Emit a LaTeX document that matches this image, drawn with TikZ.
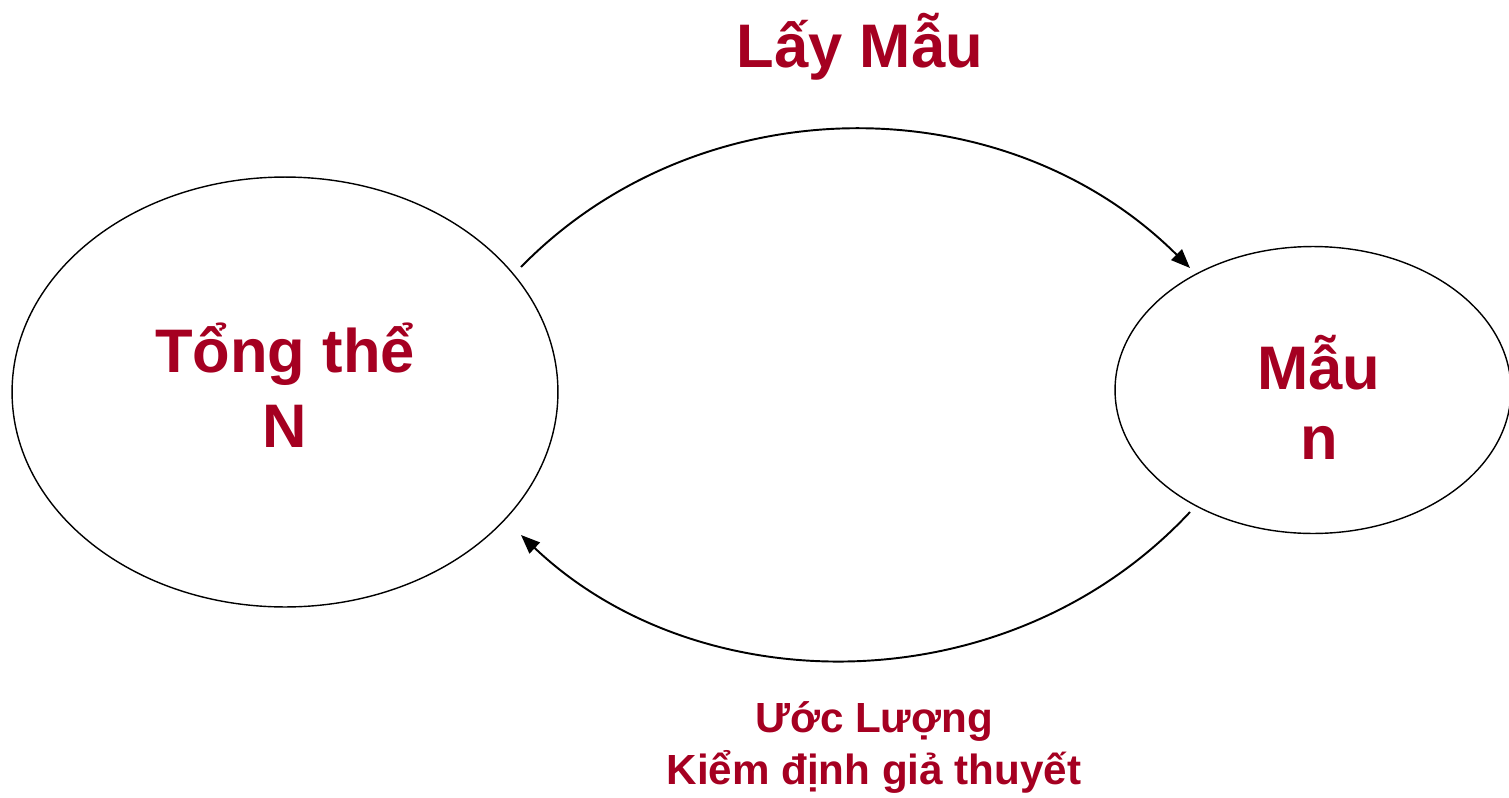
\documentclass[tikz,border=0pt]{standalone}
\usepackage{fontspec}
\setmainfont{Liberation Sans}
\usetikzlibrary{shapes.geometric,arrows.meta}
\definecolor{txtred}{RGB}{165,0,33}
\begin{document}
\begin{tikzpicture}[x=0.02cm,y=-0.02cm,
  circ/.style={draw=black,line width=0.8pt,ellipse,inner sep=0pt},
  lbl/.style={text=txtred,align=center,inner sep=0pt},
  conn/.style={draw=black,line width=1.1pt,-{Triangle[length=0.38cm,width=0.3cm]}}]
\useasboundingbox (0,0) rectangle (1509,798);
\node[circ,minimum width=10.92cm,minimum height=8.6cm] (big) at (285,392) {};
\node[circ,minimum width=7.92cm,minimum height=5.74cm] (small) at (1313,390) {};
\node[lbl,font=\bfseries\fontsize{35}{43}\selectfont] (bigtxt) at (285,385) {Tổng thể\\N};
\node[lbl,font=\bfseries\fontsize{35}{39.8}\selectfont] (smalltxt) at (1319,397) {Mẫu\\n};
\node[lbl,font=\bfseries\fontsize{35}{43}\selectfont] (top) at (860,47) {Lấy Mẫu};
\node[lbl,font=\bfseries\fontsize{24}{29.6}\selectfont] (bot) at (874,747) {Ước Lượng\\Kiểm định giả thuyết};
\coordinate (a1) at (521,267);
\coordinate (a2) at (1190,268);
\coordinate (b1) at (1190,512);
\coordinate (b2) at (521,535);
\draw[conn] (a1) .. controls (700,84) and (1005,84) .. (a2);
\draw[conn] (b1) .. controls (1010,705) and (700,705) .. (b2);
\end{tikzpicture}
\end{document}
